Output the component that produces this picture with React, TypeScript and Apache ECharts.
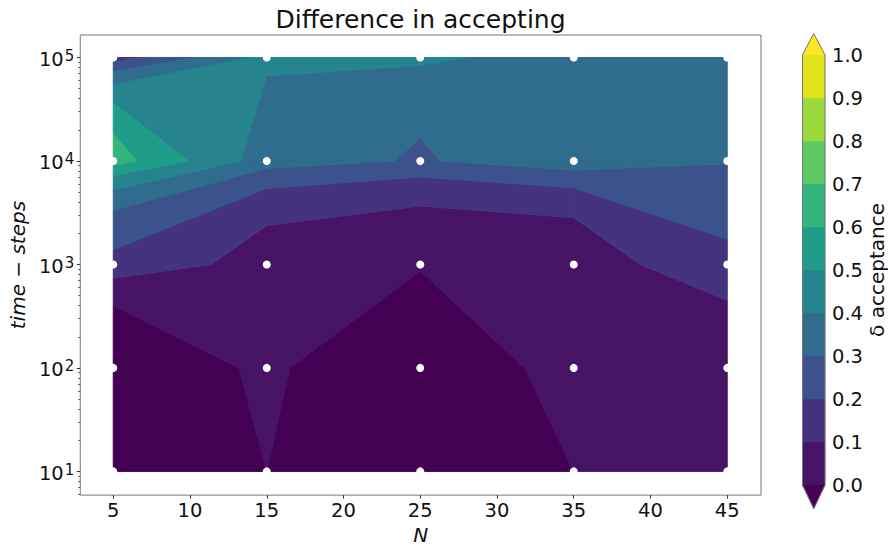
import React, { useEffect, useRef } from 'react';
import * as echarts from 'echarts';

// ---- data ----
const N_VALUES = [5, 15, 25, 35, 45];
const TIME_STEPS = [10, 100, 1000, 10000, 100000];
// delta acceptance, one array per time-steps row, columns follow N_VALUES
const ACC_T10 = [-0.05, 0.0, -0.1, 0.0, 0.03];
const ACC_T100 = [-0.09, 0.02, -0.113, 0.053, 0.043];
const ACC_T1000 = [0.18, 0.055, 0.02, 0.032, 0.19];
const ACC_T10000 = [0.645, 0.35, 0.29, 0.368, 0.309];
const ACC_T100000 = [0.149, 0.43, 0.424, 0.344, 0.35];
const ACC_ROWS = [ACC_T10, ACC_T100, ACC_T1000, ACC_T10000, ACC_T100000];

const LEVELS = [0, 0.1, 0.2, 0.3, 0.4, 0.5, 0.6, 0.7, 0.8, 0.9, 1.0];
const BAND_COLORS = ['#471365', '#46337f', '#3b528b', '#2f6c8e', '#25848e', '#1f9d89', '#33b47a', '#5ec962', '#9bd93c', '#dfe318'];
const UNDER_COLOR = '#440154';
const OVER_COLOR = '#fde725';

const X_TICKS = [5, 10, 15, 20, 25, 30, 35, 40, 45];
const Y_TICKS = [10, 100, 1000, 10000, 100000];
const Y_MINOR_TICKS: number[] = [];
for (let k = 0; k <= 5; k++) {
  for (let m = 2; m <= 9; m++) {
    const v = m * Math.pow(10, k);
    if (v > 5.9 && v < 164000) Y_MINOR_TICKS.push(v);
  }
}

const FONT = 'DejaVu Sans';

// ---- contour bands (piecewise linear on the data grid) ----
type V3 = [number, number, number];
type Band = { lo: number; hi: number; color: string };
const BANDS: Band[] = [{ lo: -Infinity, hi: LEVELS[0], color: UNDER_COLOR }];
for (let i = 0; i < LEVELS.length - 1; i++) BANDS.push({ lo: LEVELS[i], hi: LEVELS[i + 1], color: BAND_COLORS[i] });
BANDS.push({ lo: LEVELS[LEVELS.length - 1], hi: Infinity, color: OVER_COLOR });

function clipPoly(poly: V3[], level: number, keepAbove: boolean): V3[] {
  const out: V3[] = [];
  const inside = (p: V3) => (keepAbove ? p[2] >= level : p[2] < level);
  for (let i = 0; i < poly.length; i++) {
    const a = poly[i];
    const b = poly[(i + 1) % poly.length];
    const ia = inside(a);
    const ib = inside(b);
    if (ia) out.push(a);
    if (ia !== ib) {
      const t = (level - a[2]) / (b[2] - a[2]);
      out.push([a[0] + t * (b[0] - a[0]), a[1] + t * (b[1] - a[1]), level]);
    }
  }
  return out;
}

type Poly = { pts: [number, number][]; color: string };
const POLYS: Poly[] = [];
for (let j = 0; j < TIME_STEPS.length - 1; j++) {
  for (let i = 0; i < N_VALUES.length - 1; i++) {
    const quad: V3[] = [
      [N_VALUES[i], TIME_STEPS[j], ACC_ROWS[j][i]],
      [N_VALUES[i + 1], TIME_STEPS[j], ACC_ROWS[j][i + 1]],
      [N_VALUES[i + 1], TIME_STEPS[j + 1], ACC_ROWS[j + 1][i + 1]],
      [N_VALUES[i], TIME_STEPS[j + 1], ACC_ROWS[j + 1][i]],
    ];
    for (const band of BANDS) {
      let p = quad;
      if (isFinite(band.lo)) p = clipPoly(p, band.lo, true);
      if (p.length >= 3 && isFinite(band.hi)) p = clipPoly(p, band.hi, false);
      if (p.length >= 3) POLYS.push({ pts: p.map((q) => [q[0], q[1]] as [number, number]), color: band.color });
    }
  }
}

const SCATTER_POINTS: [number, number][] = [];
for (const t of TIME_STEPS) for (const n of N_VALUES) SCATTER_POINTS.push([n, t]);

export default function App() {
  const ref = useRef<HTMLDivElement>(null);
  useEffect(() => {
    if (!ref.current) return;
    const chart = echarts.init(ref.current, undefined, { renderer: 'svg' });
    const axisText = { fontFamily: FONT, fontSize: 19.5, color: '#111' };
    const option: any = {
      animation: false,
      backgroundColor: '#fff',
      grid: [
        { left: 80, top: 35, width: 681, height: 466, show: true, borderColor: '#777', borderWidth: 1, backgroundColor: 'transparent' },
        { left: 802.5, top: 55, width: 23, height: 430, show: false },
      ],
      xAxis: [
        {
          type: 'value', gridIndex: 0, min: 2.85, max: 47.2,
          name: 'N', nameLocation: 'middle', nameGap: 26,
          nameTextStyle: { fontFamily: FONT, fontSize: 20, fontStyle: 'italic', color: '#111' },
          axisLine: { show: false },
          axisTick: { show: true, length: 3.5, customValues: X_TICKS, lineStyle: { color: '#333', width: 1 } },
          axisLabel: { ...axisText, margin: 5, customValues: X_TICKS },
          splitLine: { show: false },
        },
        { type: 'value', gridIndex: 1, min: 0, max: 1, show: false },
      ],
      yAxis: [
        {
          type: 'log', logBase: 10, gridIndex: 0, position: 'left',
          min: Math.pow(10, 0.771), max: Math.pow(10, 5.217),
          name: 'time − steps', nameLocation: 'middle', nameGap: 52, nameRotate: 90,
          nameTextStyle: { fontFamily: FONT, fontSize: 20, fontStyle: 'italic', color: '#111' },
          axisLine: { show: false },
          axisTick: { show: true, length: 3.5, customValues: Y_TICKS, lineStyle: { color: '#333', width: 1 } },
          axisLabel: {
            margin: 6, customValues: Y_TICKS, padding: [4, 0, 0, 0],
            formatter: (v: number) => `{b|10}{s|${Math.round(Math.log10(v))}}`,
            rich: {
              b: { fontFamily: FONT, fontSize: 19.5, color: '#111', lineHeight: 20 },
              s: { fontFamily: FONT, fontSize: 15, color: '#111', lineHeight: 15, padding: [0, 0, 7, 1] },
            },
          },
          splitLine: { show: false },
          minorTick: { show: false },
        },
        {
          type: 'log', logBase: 10, gridIndex: 0, position: 'left', offset: 0,
          min: Math.pow(10, 0.771), max: Math.pow(10, 5.217),
          axisLine: { show: false },
          axisTick: { show: true, length: 2, customValues: Y_MINOR_TICKS, lineStyle: { color: '#333', width: 0.8 } },
          axisLabel: { show: false },
          splitLine: { show: false },
        },
        {
          type: 'value', gridIndex: 1, position: 'right', min: 0, max: 1, interval: 0.1,
          name: 'δ acceptance', nameLocation: 'middle', nameGap: 42, nameRotate: 90,
          nameTextStyle: { fontFamily: FONT, fontSize: 20, color: '#111' },
          axisLine: { show: false },
          axisTick: { show: true, length: 3.5, lineStyle: { color: '#333', width: 1 } },
          axisLabel: { ...axisText, margin: 7, formatter: (v: number) => v.toFixed(1) },
          splitLine: { show: false },
        },
      ],
      series: [
        {
          type: 'custom', xAxisIndex: 0, yAxisIndex: 0, clip: false, silent: true, z: 1,
          encode: { x: 0, y: 1 },
          data: POLYS.map((p, k) => [p.pts[0][0], p.pts[0][1], k]),
          renderItem: (params: any, api: any) => {
            const p = POLYS[api.value(2)];
            const pts = p.pts.map((q) => api.coord(q));
            return { type: 'polygon', shape: { points: pts }, style: { fill: p.color, stroke: p.color, lineWidth: 1, lineJoin: 'round' } };
          },
        },
        {
          type: 'scatter', xAxisIndex: 0, yAxisIndex: 0, silent: true, z: 3,
          symbolSize: 8, itemStyle: { color: '#ffffff', opacity: 1 },
          data: SCATTER_POINTS,
        },
        {
          type: 'custom', xAxisIndex: 1, yAxisIndex: 2, clip: false, silent: true, z: 1,
          encode: { x: 0, y: 1 },
          data: [...BANDS.map((b, k) => [0.5, isFinite(b.lo) && isFinite(b.hi) ? (b.lo + b.hi) / 2 : 0.5, k]), [0.5, 0.5, -1]],
          renderItem: (params: any, api: any) => {
            const k = api.value(2);
            const ext = 0.055;
            if (k === -1) {
              const pts = [
                api.coord([0, 0]), api.coord([0.5, -ext]), api.coord([1, 0]),
                api.coord([1, 1]), api.coord([0.5, 1 + 0.05]), api.coord([0, 1]),
              ];
              return { type: 'polygon', shape: { points: pts }, style: { fill: 'none', stroke: '#777', lineWidth: 1 } };
            }
            const b = BANDS[k];
            if (!isFinite(b.lo)) {
              const pts = [api.coord([0, b.hi]), api.coord([1, b.hi]), api.coord([0.5, b.hi - ext])];
              return { type: 'polygon', shape: { points: pts }, style: { fill: b.color, stroke: b.color, lineWidth: 0.5 } };
            }
            if (!isFinite(b.hi)) {
              const pts = [api.coord([0, b.lo]), api.coord([1, b.lo]), api.coord([0.5, b.lo + 0.05])];
              return { type: 'polygon', shape: { points: pts }, style: { fill: b.color, stroke: b.color, lineWidth: 0.5 } };
            }
            const p0 = api.coord([0, b.lo]);
            const p1 = api.coord([1, b.hi]);
            return {
              type: 'rect',
              shape: { x: p0[0], y: p1[1], width: p1[0] - p0[0], height: p0[1] - p1[1] },
              style: { fill: b.color, stroke: b.color, lineWidth: 0.5 },
            };
          },
        },
      ],
      graphic: [
        {
          type: 'text', x: 420.5, y: 19, silent: true,
          style: { text: 'Difference in accepting', fontFamily: FONT, fontSize: 25, fill: '#111', align: 'center', verticalAlign: 'middle' },
        },
      ],
    };
    chart.setOption(option);
    return () => chart.dispose();
  }, []);
  return <div ref={ref} style={{ position: 'absolute', left: 0, top: 0, width: 888, height: 550 }} />;
}
